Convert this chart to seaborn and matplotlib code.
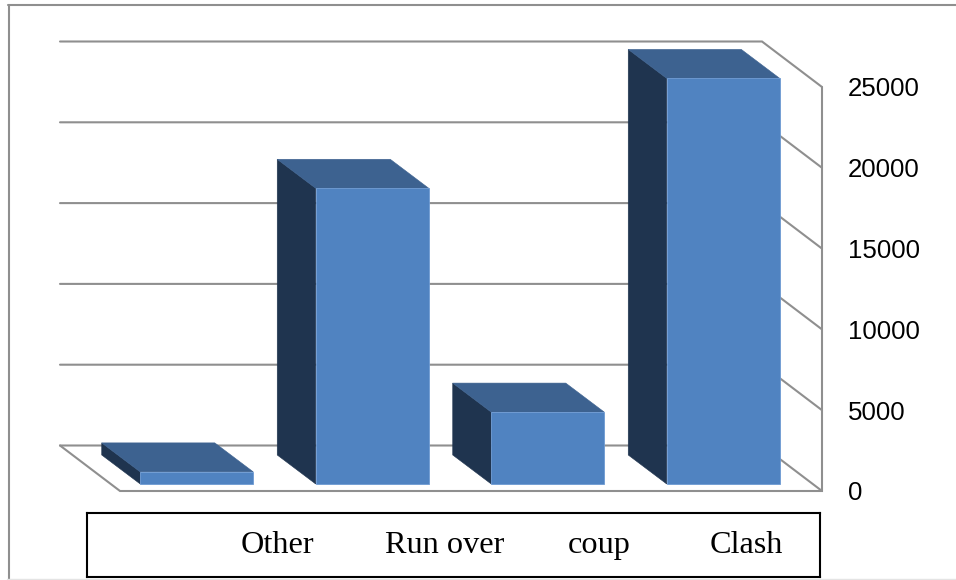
import matplotlib
matplotlib.use("Agg")
import matplotlib.pyplot as plt
from matplotlib.lines import Line2D
from matplotlib.patches import Polygon
import pandas as pd
import seaborn as sns

# Accident counts by type
categories = ["Other", "Run over", "coup", "Clash"]
counts = [750, 18300, 4450, 25100]
y_ticks = [0, 5000, 10000, 15000, 20000, 25000]
label_centres_px = [277.5, 445, 599, 746.5]

WIDTH, HEIGHT = 956, 580
WALL = "#8f8f8f"
FRONT, TOP, SIDE = "#5083c1", "#3d6290", "#1f344f"

sns.set_style("white")
plt.rcParams["font.family"] = ["Liberation Sans", "DejaVu Sans"]

fig = plt.figure(figsize=(WIDTH / 100, HEIGHT / 100), dpi=100)


def axes_px(left, top, right, bottom, **kwargs):
    """Add axes whose box is given in pixels measured from the top-left corner."""
    return fig.add_axes(
        [left / WIDTH, 1 - bottom / HEIGHT, (right - left) / WIDTH, (bottom - top) / HEIGHT],
        **kwargs,
    )


# Outer frame, open on the right
for xs, ys in [((9, 9), (0, 575)), ((8, 956), (575, 575))]:
    fig.add_artist(Line2D([x / WIDTH for x in xs], [y / HEIGHT for y in ys], color=WALL, lw=1.5))
fig.add_artist(Line2D([7 / WIDTH, 956 / WIDTH], [1.5 / HEIGHT] * 2, color="#e4e4e4", lw=1))

# Wall plane: carries the value scale and the chart's box drawing
ax_wall = axes_px(120, 87, 822, 491)
ax_wall.set_xlim(-0.5, 3.5)
ax_wall.set_ylim(0, 25000)
ax_wall.patch.set_alpha(0)
sns.despine(ax=ax_wall, left=True, bottom=True, top=True, right=True)
ax_wall.set_xticks([])
ax_wall.yaxis.tick_right()
ax_wall.set_yticks(y_ticks)
ax_wall.tick_params(axis="y", length=0, pad=18.7, labelsize=18.6, labelcolor="black")

unit_x = 702 / 4
unit_y = 404 / 25000
back_dx, back_dy = 60 / unit_x, 45.5 / unit_y
x0, x1 = -0.5, 3.5
line_style = dict(color=WALL, lw=1.5, clip_on=False, solid_capstyle="round", solid_joinstyle="miter")
for v in y_ticks:
    ax_wall.plot([x0 - back_dx, x1 - back_dx, x1], [v + back_dy, v + back_dy, v], **line_style)
ax_wall.plot([x0 - back_dx, x0, x1, x1], [back_dy, 0, 0, 25000], **line_style)

# Bar plane sits slightly behind the front edge of the floor
ax_bars = axes_px(109, 80, 811, 484)
frame = pd.DataFrame({"type": categories, "count": counts})
sns.barplot(
    data=frame, x="type", y="count", order=categories, color=FRONT, saturation=1,
    width=0.644, ax=ax_bars, edgecolor="#6d9ad3", linewidth=0.6, clip_on=False, zorder=3,
)
ax_bars.set_xlim(-0.5, 3.5)
ax_bars.set_ylim(0, 25000)
ax_bars.set_axis_off()

# Extrude each bar backwards into a top face and a side face
depth_x, depth_y = 38.5 / unit_x, 29 / unit_y
for bar in ax_bars.patches:
    left, right = bar.get_x(), bar.get_x() + bar.get_width()
    h = bar.get_height()
    ax_bars.add_patch(Polygon(
        [(left, 0), (left, h), (left - depth_x, h + depth_y), (left - depth_x, depth_y)],
        closed=True, facecolor=SIDE, edgecolor=SIDE, lw=0.4, clip_on=False, zorder=2,
    ))
    ax_bars.add_patch(Polygon(
        [(left, h), (right, h), (right - depth_x, h + depth_y), (left - depth_x, h + depth_y)],
        closed=True, facecolor=TOP, edgecolor=TOP, lw=0.4, clip_on=False, zorder=2,
    ))

# Category labels inside a black outlined box
box_left, box_right, box_top, box_bottom = 86.5, 819.5, 513, 577
ax_box = axes_px(box_left, box_top, box_right, box_bottom)
ax_box.set_xticks([])
ax_box.set_yticks([])
for spine in ax_box.spines.values():
    spine.set_visible(True)
    spine.set_color("black")
    spine.set_linewidth(1.5)
for name, cx in zip(categories, label_centres_px):
    ax_box.text(
        (cx - box_left) / (box_right - box_left), (box_bottom - 553) / (box_bottom - box_top),
        name, transform=ax_box.transAxes, ha="center", va="baseline",
        family=["Liberation Serif", "DejaVu Serif"], fontsize=23.2, color="black",
    )

fig.savefig("out.png", dpi=100, facecolor="white")
